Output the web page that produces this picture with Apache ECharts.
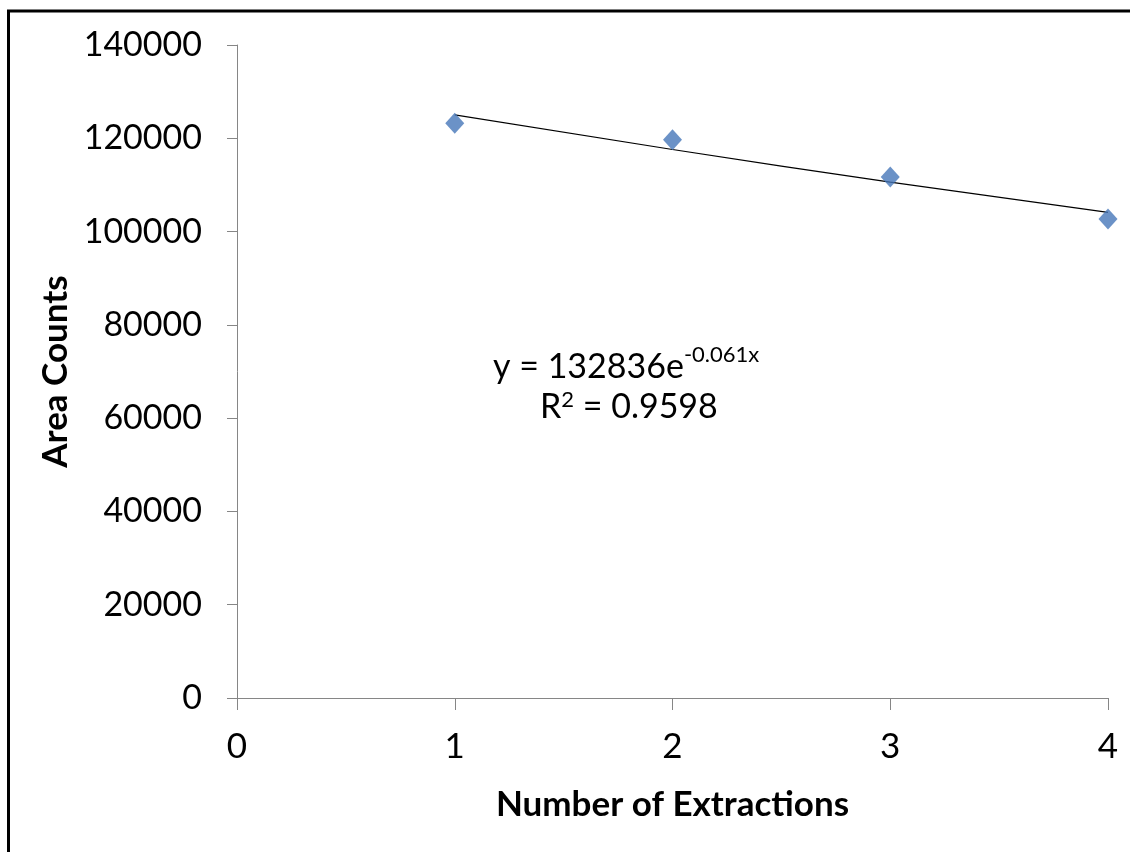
<!DOCTYPE html>
<html>
<head>
<meta charset="utf-8">
<script src="https://cdn.jsdelivr.net/npm/echarts@6/dist/echarts.min.js"></script>
<style>
html,body{margin:0;padding:0;background:#fff;}
#chart{width:1130px;height:852px;}
</style>
</head>
<body>
<div id="chart"></div>
<script>
const extractions = [1, 2, 3, 4];
const areaCounts = [123200, 119700, 111700, 102700];
const trendX = [1, 2, 3, 4];
const trendY = [125000, 117600, 110600, 104100];
const xTicks = [0, 1, 2, 3, 4];
const yTicks = [0, 20000, 40000, 60000, 80000, 100000, 120000, 140000];
const xTitle = 'Number of Extractions';
const yTitle = 'Area Counts';

const FONT = 'Lato';
const chart = echarts.init(document.getElementById('chart'), null, {renderer: 'canvas'});
const axisGrey = '#868686';
chart.setOption({
  animation: false,
  backgroundColor: '#ffffff',
  grid: {left: 237, right: 22, top: 45, bottom: 154, containLabel: false},
  xAxis: {
    type: 'value',
    min: xTicks[0], max: xTicks[xTicks.length - 1], interval: 1,
    name: xTitle, nameLocation: 'middle', nameGap: 89,
    nameTextStyle: {fontFamily: FONT, fontSize: 35, fontWeight: 'bold', color: '#000'},
    axisLine: {show: true, lineStyle: {color: axisGrey, width: 1}},
    axisTick: {show: true, length: 12, lineStyle: {color: axisGrey}},
    axisLabel: {fontFamily: FONT, fontSize: 35, color: '#000', margin: 31},
    splitLine: {show: false}
  },
  yAxis: {
    type: 'value',
    min: yTicks[0], max: yTicks[yTicks.length - 1], interval: 20000,
    name: yTitle, nameLocation: 'middle', nameGap: 152, nameRotate: 90,
    nameTextStyle: {fontFamily: FONT, fontSize: 35, fontWeight: 'bold', color: '#000'},
    axisLine: {show: true, lineStyle: {color: axisGrey, width: 1}},
    axisTick: {show: true, length: 10, lineStyle: {color: axisGrey}},
    axisLabel: {fontFamily: FONT, fontSize: 34, color: '#000', margin: 35,
      formatter: v => String(v)},
    splitLine: {show: false}
  },
  series: [
    {
      type: 'line',
      data: trendX.map((x, i) => [x, trendY[i]]),
      smooth: true,
      showSymbol: false,
      symbol: 'none',
      lineStyle: {color: '#000000', width: 1.2},
      z: 2
    },
    {
      type: 'scatter',
      data: extractions.map((x, i) => [x, areaCounts[i]]),
      symbol: 'diamond',
      symbolSize: [19, 21],
      itemStyle: {color: '#4677b9'},
      z: 3
    }
  ],
  graphic: [
    {
      type: 'rect',
      shape: {x: 8.5, y: 11, width: 1300, height: 1000},
      style: {fill: 'none', stroke: '#000', lineWidth: 3},
      silent: true
    },
    {
      type: 'text',
      left: 493, top: 344,
      style: {
        text: '{b|y = 132836e}{s|-0.061x}',
        rich: {
          b: {fontFamily: FONT, fontSize: 34, fill: '#000', verticalAlign: 'bottom'},
          s: {fontFamily: FONT, fontSize: 22, fill: '#000', verticalAlign: 'top', padding: [0, 0, 18, 0]}
        }
      }
    },
    {
      type: 'text',
      left: 540, top: 389,
      style: {
        text: '{b|R}{s|2}{b| = 0.9598}',
        rich: {
          b: {fontFamily: FONT, fontSize: 34, fill: '#000'},
          s: {fontFamily: FONT, fontSize: 22, fill: '#000', padding: [0, 0, 14, 0]}
        }
      }
    }
  ]
});
</script>
</body>
</html>
